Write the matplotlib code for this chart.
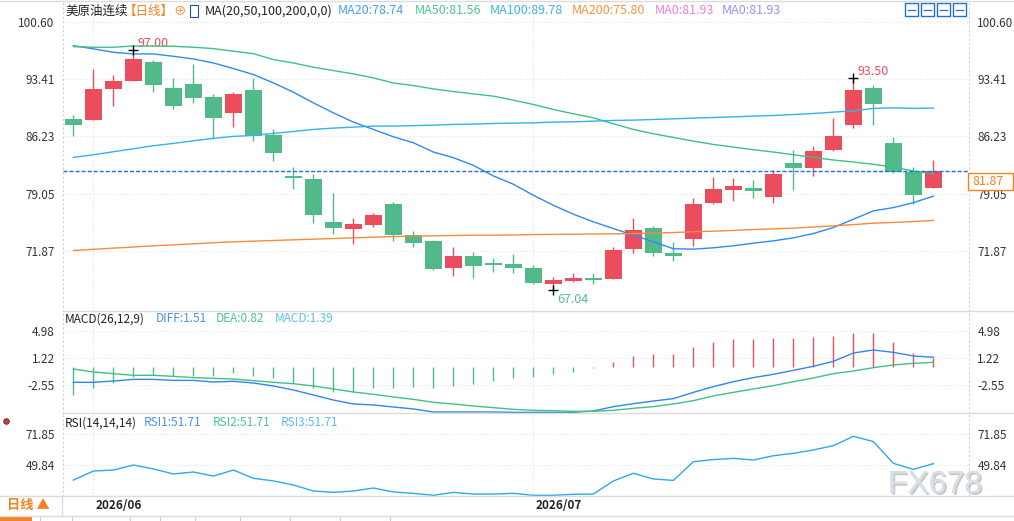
import matplotlib
matplotlib.use('Agg')
import matplotlib.pyplot as plt
import matplotlib.patheffects as pe
from matplotlib.lines import Line2D
from matplotlib.patches import Rectangle

plt.rcParams['font.family'] = ['Noto Sans CJK SC', 'DejaVu Sans']

# daily candles (44 sessions)
opens = [88.35, 88.27, 92.23, 93.23, 95.60, 92.35, 92.85, 91.22, 89.22, 92.10,
         86.35, 81.22, 80.85, 75.48, 74.60, 75.10, 77.73, 73.85, 73.10, 69.73,
         71.23, 70.18, 70.23, 69.73, 67.73, 68.10, 68.48, 68.35, 72.10, 74.73,
         71.60, 73.35, 77.85, 79.48, 79.73, 78.60, 82.85, 82.23, 84.48, 87.60,
         92.35, 85.35, 81.73, 79.73]
highs = [88.97, 94.68, 93.98, 97.00, 95.85, 93.60, 95.35, 91.48, 91.85, 93.60,
         87.10, 82.35, 81.48, 79.10, 75.98, 76.60, 77.98, 74.35, 73.20, 72.35,
         71.73, 70.98, 71.48, 70.10, 68.60, 69.10, 69.10, 72.35, 75.98, 74.98,
         72.98, 78.48, 81.10, 80.98, 80.73, 81.98, 84.48, 84.98, 88.48, 93.50,
         92.73, 86.10, 82.35, 83.23]
lows = [86.27, 88.27, 89.98, 93.23, 91.85, 89.60, 90.40, 85.93, 87.35, 85.60,
        83.10, 79.60, 75.35, 73.98, 72.73, 74.85, 73.10, 72.35, 69.48, 68.73,
        68.48, 69.23, 69.10, 67.73, 67.04, 67.98, 67.73, 68.35, 71.60, 71.23,
        70.60, 72.48, 77.73, 78.10, 78.48, 77.85, 79.48, 81.23, 84.35, 87.23,
        87.60, 81.60, 77.73, 79.73]
closes = [87.64, 92.23, 93.23, 95.98, 92.73, 90.10, 91.10, 88.48, 91.60, 86.23,
          84.10, 81.02, 76.35, 74.73, 75.23, 76.35, 73.85, 72.85, 69.60, 71.23,
          69.98, 70.14, 69.73, 67.85, 68.23, 68.48, 68.23, 71.98, 74.48, 71.60,
          71.23, 77.73, 79.60, 79.98, 79.35, 81.48, 82.23, 84.35, 86.23, 92.10,
          90.23, 81.73, 78.85, 81.87]

ma20 = [97.60, 97.20, 96.77, 96.56, 96.56, 96.27, 95.93, 95.43, 94.73, 93.98,
        92.93, 91.77, 90.43, 89.18, 88.02, 87.10, 86.18, 85.43, 84.27, 83.56,
        82.60, 81.27, 80.23, 78.85, 77.60, 76.48, 75.52, 74.68, 73.85, 73.02,
        72.15, 72.10, 72.27, 72.52, 72.85, 73.14, 73.52, 74.06, 74.81, 75.85,
        76.90, 77.31, 77.93, 78.74]
ma50 = [97.48, 97.40, 97.40, 97.56, 97.56, 97.52, 97.40, 97.23, 96.90, 96.60,
        95.85, 95.43, 94.90, 94.48, 94.06, 93.56, 92.93, 92.60, 92.18, 91.85,
        91.56, 91.27, 90.77, 90.23, 89.60, 89.06, 88.56, 87.81, 87.10, 86.56,
        86.10, 85.64, 85.22, 84.89, 84.56, 84.27, 83.93, 83.60, 83.27, 83.02,
        82.73, 82.39, 81.89, 81.56]
ma100 = [83.60, 83.93, 84.31, 84.68, 85.06, 85.35, 85.68, 85.98, 86.23, 86.35,
         86.60, 86.85, 87.10, 87.27, 87.39, 87.52, 87.52, 87.58, 87.64, 87.73,
         87.77, 87.85, 87.89, 87.93, 88.02, 88.06, 88.14, 88.23, 88.27, 88.35,
         88.43, 88.52, 88.60, 88.68, 88.77, 88.85, 88.97, 89.10, 89.27, 89.43,
         89.73, 89.81, 89.74, 89.78]
ma200 = [71.93, 72.08, 72.23, 72.37, 72.52, 72.64, 72.77, 72.90, 73.02, 73.10,
         73.18, 73.27, 73.35, 73.43, 73.52, 73.60, 73.68, 73.72, 73.77, 73.81,
         73.85, 73.85, 73.87, 73.93, 73.95, 73.97, 74.00, 74.02, 74.06, 74.10,
         74.18, 74.28, 74.35, 74.45, 74.56, 74.64, 74.73, 74.87, 75.02, 75.18,
         75.35, 75.45, 75.56, 75.70]

diff = [-2.17, -2.17, -1.99, -1.76, -1.76, -1.90, -1.90, -2.13, -2.03, -2.26,
        -2.68, -3.23, -3.93, -4.62, -5.17, -5.31, -5.59, -5.86, -6.28, -6.28,
        -6.28, -6.28, -6.33, -6.33, -6.33, -6.33, -6.14, -5.54, -5.13, -4.76,
        -4.43, -3.56, -2.77, -2.08, -1.52, -1.06, -0.51, 0.05, 0.74, 1.89,
        2.31, 1.98, 1.48, 1.30]
dea = [-0.32, -0.74, -0.97, -1.20, -1.20, -1.34, -1.52, -1.62, -1.71, -1.94,
       -2.17, -2.36, -2.68, -3.09, -3.51, -3.83, -4.20, -4.53, -4.94, -5.17,
       -5.45, -5.68, -5.91, -6.05, -6.10, -6.19, -6.19, -6.05, -5.77, -5.54,
       -5.17, -4.71, -4.06, -3.56, -3.09, -2.63, -2.08, -1.57, -0.97, -0.60,
       -0.14, 0.23, 0.46, 0.60]
macd_hist = [-3.93, -3.00, -2.31, -1.39, -1.15, -1.29, -1.29, -1.25, -0.83, -1.29,
             -1.62, -2.31, -3.00, -3.56, -3.56, -3.00, -3.00, -2.86, -3.00, -2.68,
             -2.40, -1.99, -1.52, -1.39, -1.02, -0.69, -0.15, 0.60, 1.48, 1.75,
             1.75, 2.72, 3.42, 3.83, 3.83, 3.97, 3.97, 4.11, 4.25, 4.66,
             4.66, 3.42, 1.89, 1.20]
rsi = [39.0, 45.5, 46.2, 49.8, 47.0, 43.4, 44.8, 41.9, 46.2, 40.3,
       38.4, 35.5, 31.2, 30.2, 31.2, 33.3, 30.5, 29.5, 28.1, 30.2,
       29.0, 29.0, 29.5, 28.1, 28.1, 28.8, 29.0, 38.4, 43.9, 39.8,
       38.8, 52.2, 53.7, 54.6, 53.4, 56.5, 58.2, 60.6, 63.7, 70.4,
       66.6, 51.0, 46.7, 50.8]

price_ticks = [100.60, 93.41, 86.23, 79.05, 71.87]
macd_ticks = [4.98, 1.22, -2.55]
rsi_ticks = [71.85, 49.84]
month_idx = [1, 23]
month_labels = ['2026/06', '2026/07']
last_price = 81.87

header_items = [('美原油连续', 65, '#222222'), ('【日线】', 124, '#f5821f'),
                ('⊕', 173, '#f5821f'), ('MA(20,50,100,200,0,0)', 205, '#222222'),
                ('MA20:78.74', 338, '#4a9ff5'), ('MA50:81.56', 415, '#4cc38f'),
                ('MA100:89.78', 490, '#3fb4e6'), ('MA200:75.80', 572, '#f7923f'),
                ('MA0:81.93', 655, '#f080d8'), ('MA0:81.93', 722, '#9d8cf5')]
macd_items = [('MACD(26,12,9)', 65, '#222222'), ('DIFF:1.51', 156, '#4a90e8'),
              ('DEA:0.82', 216, '#4cc38f'), ('MACD:1.39', 275, '#5bbfeb')]
rsi_items = [('RSI(14,14,14)', 65, '#222222'), ('RSI1:51.71', 144, '#4a90e8'),
             ('RSI2:51.71', 213, '#4cc38f'), ('RSI3:51.71', 281, '#5bbfeb')]

RED = '#ec4d5c'
GREEN = '#52b98a'
W, H = 1014, 521


def fx(px):
    return px / W


def fy(px):
    return 1 - px / H


fig = plt.figure(figsize=(W / 100, H / 100), dpi=100)
left, width = fx(63), (969 - 63) / W
ax_p = fig.add_axes([left, fy(311), width, 309 / H])
ax_m = fig.add_axes([left, fy(413), width, 102 / H])
ax_r = fig.add_axes([left, fy(496), width, 83 / H])

n = len(closes)
xs = list(range(n))

for ax, ticks in ((ax_p, price_ticks), (ax_m, macd_ticks), (ax_r, rsi_ticks)):
    ax.set_xlim(-0.52, 44.78)
    ax.set_xticks([])
    ax.set_yticks(ticks)
    ax.set_yticklabels([f'{t:.2f}' for t in ticks])
    ax.tick_params(axis='y', left=False, right=False, labelleft=True,
                   labelright=True, labelsize=8.5, labelcolor='#333333', pad=2.5)
    for s in ('top', 'bottom'):
        ax.spines[s].set_visible(False)
    for s in ('left', 'right'):
        ax.spines[s].set_color('#cfcfcf')
        ax.spines[s].set_linestyle((0, (1, 3)))
        ax.spines[s].set_linewidth(0.8)
    for t in ticks:
        ax.axhline(t, color='#e2e2e2', lw=0.8, ls=(0, (1, 2)), zorder=0)
    for m in month_idx:
        ax.axvline(m, color='#e2e2e2', lw=0.8, ls=(0, (1, 2)), zorder=0)

# price panel
ax_p.set_ylim(64.35, 103.07)
for i in xs:
    o, h, l, c = opens[i], highs[i], lows[i], closes[i]
    col = RED if c > o else GREEN
    ax_p.vlines(i, l, h, color=col, lw=1.0, zorder=2)
    body = max(abs(c - o), 0.18)
    ax_p.bar(i, body, bottom=min(o, c), width=0.83, color=col, lw=0, zorder=3)

ax_p.plot(xs, ma20, color='#2f8af0', lw=1.0, zorder=4)
ax_p.plot(xs, ma50, color='#3ec184', lw=1.0, zorder=4)
ax_p.plot(xs, ma100, color='#35b2ea', lw=1.0, zorder=4)
ax_p.plot(xs, ma200, color='#f78b3a', lw=1.0, zorder=4)
ax_p.axhline(last_price, color='#1a6fe6', lw=1.0, ls=(0, (2.9, 1.45)), zorder=5)

hi_i = highs.index(max(highs[:20]))
lo_i = lows.index(min(lows))
hi2_i = highs.index(max(highs[30:]))
for i, yv in ((hi_i, highs[hi_i]), (lo_i, lows[lo_i]), (hi2_i, highs[hi2_i])):
    ax_p.plot(i, yv, marker='+', color='black', ms=7, mew=1.0, zorder=6)
ax_p.text(hi_i + 0.98, highs[hi_i] + 0.93, f'{highs[hi_i]:.2f}', color=RED,
          fontsize=9, ha='center', va='center')
ax_p.text(hi2_i + 0.98, highs[hi2_i] + 0.8, f'{highs[hi2_i]:.2f}', color=RED,
          fontsize=9, ha='center', va='center')
ax_p.text(lo_i + 0.98, lows[lo_i] - 1.19, f'{lows[lo_i]:.2f}', color='#5cb98e',
          fontsize=9, ha='center', va='center')

# MACD panel
ax_m.set_ylim(-6.42, 7.71)
for i in xs:
    v = macd_hist[i]
    ax_m.vlines(i, 0, v, color=RED if v > 0 else GREEN, lw=1.0, zorder=2)
ax_m.plot(xs, diff, color='#2f86f0', lw=1.0, zorder=3)
ax_m.plot(xs, dea, color='#3ec184', lw=1.0, zorder=3)

# RSI panel
ax_r.set_ylim(27.6, 87.1)
ax_r.plot(xs, rsi, color='#2ea9e8', lw=1.0)
for m, lab in zip(month_idx, month_labels):
    ax_r.text(m + 0.1, -0.11, lab, transform=ax_r.get_xaxis_transform(),
              ha='left', va='center', fontsize=8.5, fontweight='bold', color='#222222')

# headers
for txt, x, col in header_items:
    fig.text(fx(x), fy(11), txt, color=col, fontsize=9, ha='left', va='center')
fig.add_artist(Rectangle((fx(190), fy(17)), 8 / W, 12 / H, transform=fig.transFigure,
                         fc='white', ec='#1f4fb0', lw=0.8))
for txt, x, col in macd_items:
    fig.text(fx(x), fy(319), txt, color=col, fontsize=8.5, ha='left', va='center')
for txt, x, col in rsi_items:
    fig.text(fx(x), fy(423), txt, color=col, fontsize=8.5, ha='left', va='center')

# toolbar icons, top right
for x in (905, 921, 937, 953):
    fig.add_artist(Rectangle((fx(x), fy(16)), 13 / W, 13 / H, transform=fig.transFigure,
                             fc='white', ec='#1f6fd6', lw=1.0))
    fig.add_artist(Line2D([fx(x + 3), fx(x + 10)], [fy(9.5), fy(9.5)], color='#1f6fd6', lw=0.9))

# last price box
fig.add_artist(Rectangle((fx(968), fy(190)), 45 / W, 17 / H, transform=fig.transFigure,
                         fc='white', ec='#f5821f', lw=1.0, zorder=5))
fig.text(fx(972), fy(181.5), f'{last_price:.2f}', color='#f5821f', fontsize=9,
         ha='left', va='center', zorder=6)

# frame lines
for y, x0 in ((0.5, 0), (311, 63), (413, 63), (496, 0), (516, 0)):
    fig.add_artist(Line2D([fx(x0), 1], [fy(y), fy(y)], color='#dcdcdc', lw=1.0))
fig.add_artist(Line2D([fx(62), fx(62)], [fy(496), fy(516)], color='#dcdcdc', lw=1.0))
fig.add_artist(Rectangle((0, 0), 32 / W, 4 / H, transform=fig.transFigure,
                         fc='#f5821f', ec='none'))
for x in (40, 72, 130, 160, 195, 240, 290, 340, 390):
    fig.add_artist(Line2D([fx(x), fx(x)], [0, fy(517)], color='#cccccc', lw=0.8))
fig.add_artist(Line2D([fx(6)], [fy(421)], marker='o', color='#e83030', ms=4,
                      mec='#333333', mew=0.6))
fig.text(fx(7), fy(505), '日线 ▲', color='#f5821f', fontsize=9.5, fontweight='bold',
         ha='left', va='center')

# watermark
fig.text(fx(935), fy(485), 'FX678', fontsize=23, color='#d6e0ea', ha='center',
         va='center', family='Liberation Sans',
         path_effects=[pe.withSimplePatchShadow(offset=(1.2, -1.2), shadow_rgbFace='#a89e96', alpha=0.6),
                       pe.Normal()])

fig.savefig('out.png', dpi=100)
plt.close(fig)
